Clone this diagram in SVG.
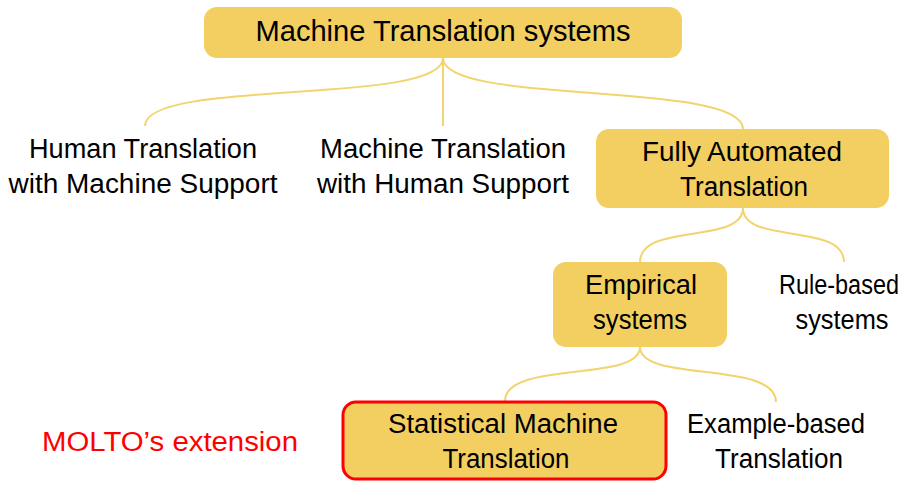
<svg xmlns="http://www.w3.org/2000/svg" width="912" height="481" viewBox="0 0 912 481">
<style>
.box{fill:#F2CF60;}
.red{stroke:#FF0000;stroke-width:3;}
.edge{fill:none;stroke:#F2D46E;stroke-width:2;}
text{font-family:"Liberation Sans",Arial,sans-serif;font-size:27px;fill:#000;text-anchor:middle;}
.big{font-size:29px;}
.note{fill:#FF0000;}
</style>
<rect width="912" height="481" fill="#fff"/>
<g id="connectors">
<path class="edge" d="M443,58 C443,106 145,78 145,126"/>
<path class="edge" d="M443,58 L443,126"/>
<path class="edge" d="M443,58 C443,106 743,80 743,129"/>
<path class="edge" d="M743,208 C743,245 640,222 640,262"/>
<path class="edge" d="M743,208 C743,245 844,222 844,262"/>
<path class="edge" d="M640,347 C640,383 505,360 505,401"/>
<path class="edge" d="M640,347 C640,383 776,360 776,402"/>
</g>
<g id="n-root">
<rect class="box" x="204" y="7" width="478" height="51" rx="13"/>
<text class="big" x="443" y="41" textLength="375" lengthAdjust="spacingAndGlyphs">Machine Translation systems</text>
</g>
<g id="n-htms">
<text x="143" y="158" textLength="228" lengthAdjust="spacingAndGlyphs">Human Translation</text>
<text x="143" y="193" textLength="269" lengthAdjust="spacingAndGlyphs">with Machine Support</text>
</g>
<g id="n-mths">
<text x="443" y="158" textLength="246" lengthAdjust="spacingAndGlyphs">Machine Translation</text>
<text x="443" y="193" textLength="252" lengthAdjust="spacingAndGlyphs">with Human Support</text>
</g>
<g id="n-fat">
<rect class="box" x="596" y="129" width="293" height="79" rx="13"/>
<text x="742" y="161" textLength="200" lengthAdjust="spacingAndGlyphs">Fully Automated</text>
<text x="744" y="196" textLength="128" lengthAdjust="spacingAndGlyphs">Translation</text>
</g>
<g id="n-emp">
<rect class="box" x="553" y="262" width="174" height="85" rx="13"/>
<text x="641" y="294" textLength="112" lengthAdjust="spacingAndGlyphs">Empirical</text>
<text x="640" y="329" textLength="94" lengthAdjust="spacingAndGlyphs">systems</text>
</g>
<g id="n-rule">
<text x="839" y="294" textLength="120" lengthAdjust="spacingAndGlyphs">Rule-based</text>
<text x="842" y="329" textLength="93" lengthAdjust="spacingAndGlyphs">systems</text>
</g>
<g id="n-smt">
<rect class="box red" x="343" y="402" width="323" height="77" rx="13"/>
<text x="503" y="433" textLength="230" lengthAdjust="spacingAndGlyphs">Statistical Machine</text>
<text x="506" y="468" textLength="127" lengthAdjust="spacingAndGlyphs">Translation</text>
</g>
<g id="n-ebt">
<text x="776" y="433" textLength="178" lengthAdjust="spacingAndGlyphs">Example-based</text>
<text x="779" y="468" textLength="128" lengthAdjust="spacingAndGlyphs">Translation</text>
</g>
<g id="n-molto">
<text class="note" x="170" y="451" textLength="256" lengthAdjust="spacingAndGlyphs">MOLTO’s extension</text>
</g>
</svg>
